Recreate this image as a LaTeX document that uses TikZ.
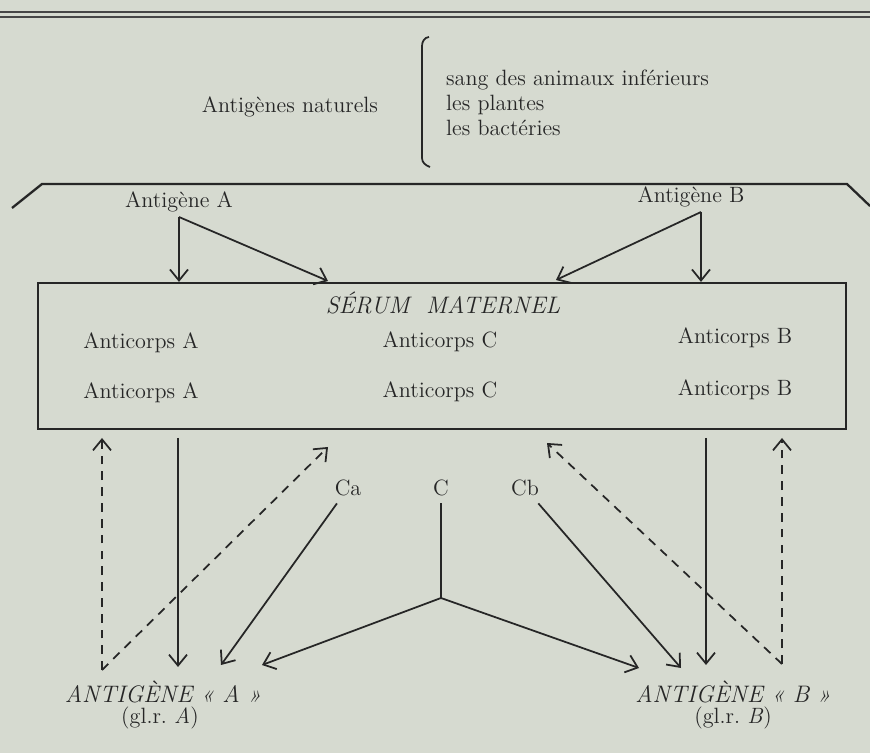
\documentclass[tikz,border=0pt]{standalone}
\usepackage{tikz}
\usetikzlibrary{arrows.meta}

\definecolor{paper}{RGB}{214,218,208}
\definecolor{ink}{RGB}{38,38,38}

\tikzset{
    txt/.style={inner sep=1pt, text=ink, font=\fontsize{12.6}{14.2}\selectfont},
    itxt/.style={txt, font=\fontsize{13.6}{15}\selectfont\itshape},
    lettre/.style={txt, inner sep=4pt},
    fleche/.style={draw=ink, line width=1pt, -{Straight Barb[length=2.2mm,width=3.6mm]}},
    tiret/.style={fleche, dash pattern=on 5pt off 4pt},
    trait/.style={draw=ink, line width=1pt},
}

\begin{document}
\begin{tikzpicture}[x=0.02cm, y=-0.02cm]
    \fill[paper] (0,0) rectangle (870,753);
    \useasboundingbox (0,0) rectangle (870,753);

    % double rule at the top of the page
    \draw[ink!85, line width=0.6pt] (0,12) -- (870,12);
    \draw[ink!85, line width=0.6pt] (0,17) -- (870,17);

    % natural antigens and their sources
    \node[txt] (naturels) at (290,107) {Antigènes naturels};
    \node[txt, anchor=west, align=left] (sources) at (444,103)
        {sang des animaux inférieurs\\les plantes\\les bactéries};
    \draw[ink, line width=1pt] (429,37) to[out=185,in=90] (422,46) -- (422,158) to[out=-90,in=160] (430,167);

    % the frame above the serum
    \draw[ink, line width=1.3pt] (12,208) -- (42,184) -- (847,184) -- (870,206);

    \node[txt] (antigA) at (179,202) {Antigène A};
    \node[txt] (antigB) at (691,197) {Antigène B};
    \coordinate (jA) at (179,217);
    \coordinate (jB) at (701,212);

    % maternal serum box
    \node[draw=ink, line width=1.3pt, minimum width=16.16cm, minimum height=2.92cm, inner sep=0pt]
        (serum) at (442,356) {};
    \node[itxt] (titre) at (443,303) {SÉRUM~~MATERNEL};
    \node[txt] (acA1) at (141,343) {Anticorps A};
    \node[txt] (acA2) at (141,393) {Anticorps A};
    \node[txt] (acC1) at (440,342) {Anticorps C};
    \node[txt] (acC2) at (440,392) {Anticorps C};
    \node[txt] (acB1) at (735,338) {Anticorps B};
    \node[txt] (acB2) at (735,390) {Anticorps B};

    % antigens A and B enter the serum
    \coordinate (sA) at (328,281);
    \coordinate (sB) at (556,280);
    \draw[fleche] (jA) -- (jA |- serum.north);
    \draw[fleche] (jA) -- (sA);
    \draw[fleche] (jB) -- (jB |- serum.north);
    \draw[fleche] (jB) -- (sB);

    % red cells at the bottom
    \node[itxt] (globA) at (163,692) {ANTIGÈNE «~A~»};
    \node[txt] (grA) at (160,718) {(gl.r.~\textit{A})};
    \node[itxt] (globB) at (733,692) {ANTIGÈNE «~B~»};
    \node[txt] (grB) at (733,718) {(gl.r.~\textit{B})};

    \node[lettre] (Ca) at (348,488) {Ca};
    \node[lettre] (C) at (441,488) {C};
    \node[lettre] (Cb) at (525,488) {Cb};
    \coordinate (jC) at (441,598);

    % free ends of the lower connectors
    \coordinate (hA) at (102,438);
    \coordinate (bA) at (102,670);
    \coordinate (dA) at (328,447);
    \coordinate (tA) at (178,667);
    \coordinate (tCa) at (221,665);
    \coordinate (tCA) at (262,665);
    \coordinate (tCB) at (639,668);
    \coordinate (tCb) at (681,668);
    \coordinate (tB) at (706,665);
    \coordinate (hB) at (782,438);
    \coordinate (bB) at (782,664);
    \coordinate (dB) at (547,443);

    % left side
    \draw[tiret] (bA) -- (hA);
    \draw[tiret] (bA) -- (dA);
    \draw[fleche] (178,438) -- (tA);
    \draw[fleche] (Ca) -- (tCa);

    % the common antibody C
    \draw[trait] (C) -- (jC);
    \draw[fleche] (jC) -- (tCA);
    \draw[fleche] (jC) -- (tCB);

    % right side
    \draw[fleche] (Cb) -- (tCb);
    \draw[fleche] (706,438) -- (tB);
    \draw[tiret] (bB) -- (hB);
    \draw[tiret] (bB) -- (dB);
\end{tikzpicture}
\end{document}
